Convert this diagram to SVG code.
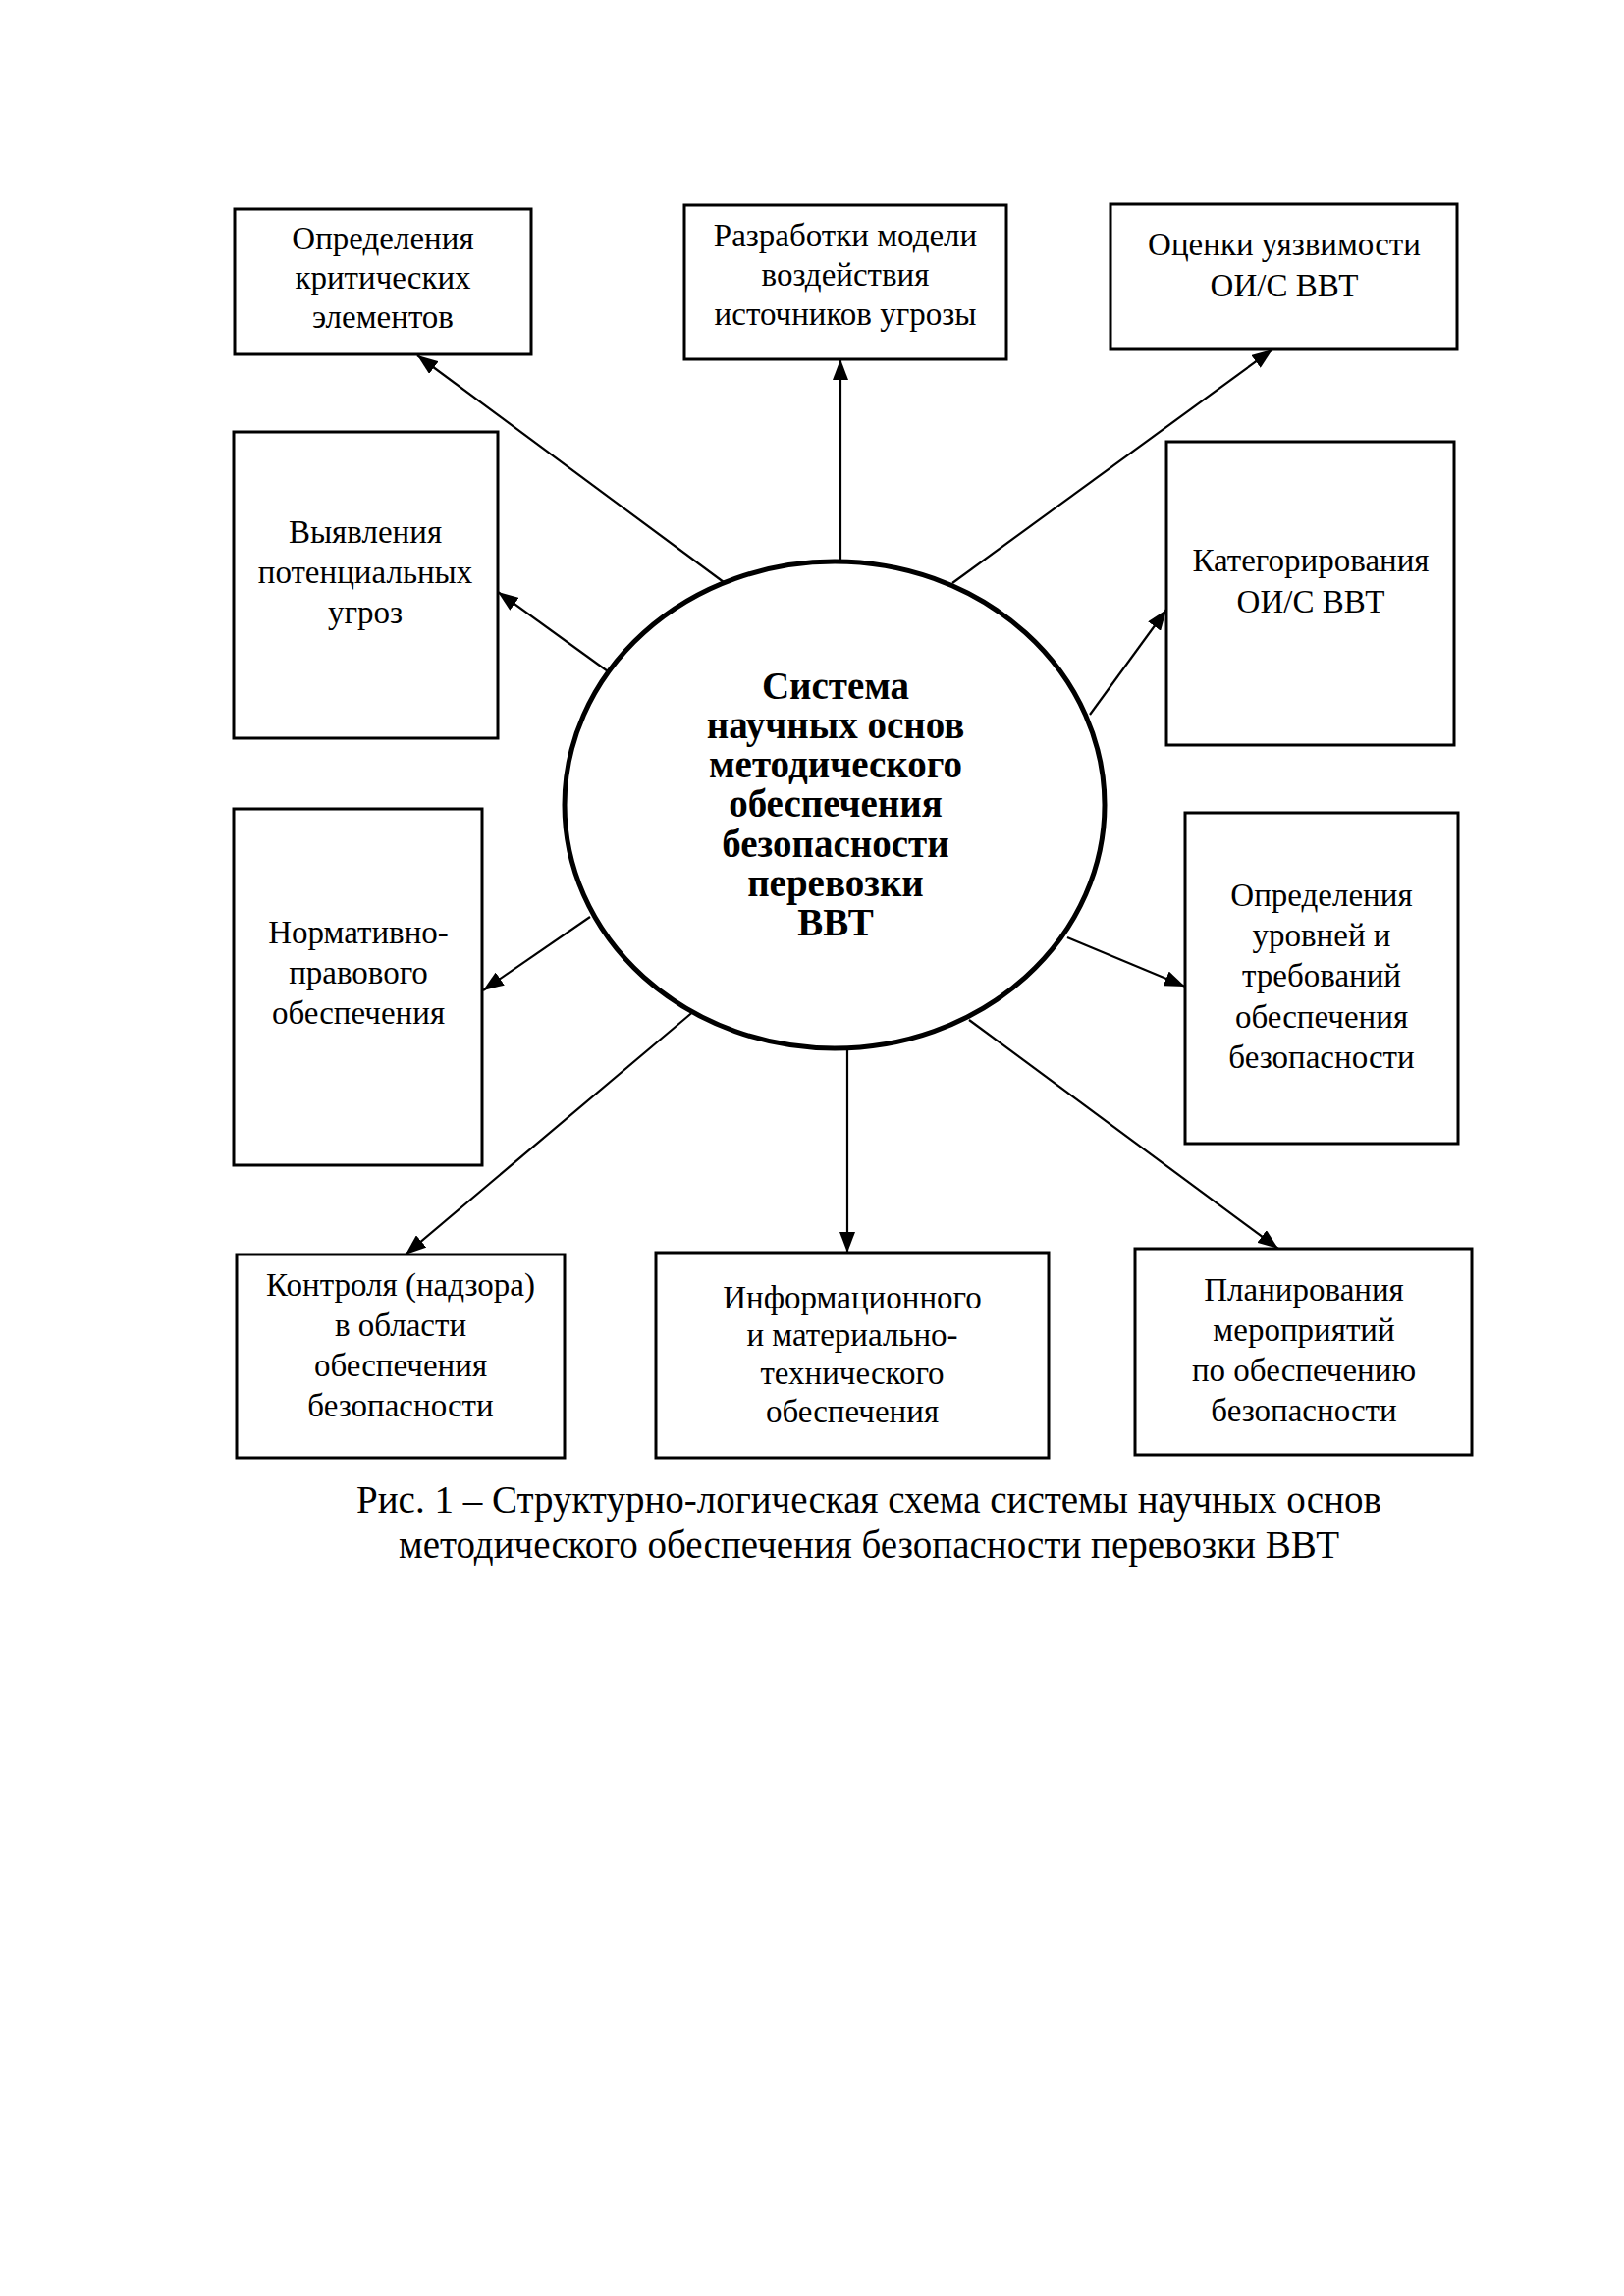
<svg xmlns="http://www.w3.org/2000/svg" width="1654" height="2339" viewBox="0 0 1654 2339">
<style>
.box{fill:#fff;stroke:#000;stroke-width:3}
.t{font-family:"Liberation Serif","Times New Roman",serif;font-size:33px;fill:#000;text-anchor:middle}
.tb{font-family:"Liberation Serif","Times New Roman",serif;font-size:39px;font-weight:bold;fill:#000;text-anchor:middle}
.cap{font-family:"Liberation Serif","Times New Roman",serif;font-size:39px;fill:#000;text-anchor:middle}
.ln{stroke:#000;stroke-width:2.2;fill:none;marker-end:url(#ah)}
</style>
<defs>
<marker id="ah" markerUnits="userSpaceOnUse" markerWidth="22" markerHeight="16" refX="21" refY="8" orient="auto">
<path d="M0,0 L21,8 L0,16 z" fill="#000"/>
</marker>
</defs>
<rect width="1654" height="2339" fill="#fff"/>
<g id="connectors">
<line class="ln" x1="741" y1="596" x2="425" y2="362"/>
<line class="ln" x1="856" y1="572" x2="856" y2="366"/>
<line class="ln" x1="970" y1="594" x2="1296" y2="356"/>
<line class="ln" x1="626" y1="689" x2="507" y2="603"/>
<line class="ln" x1="1110" y1="728" x2="1188" y2="621"/>
<line class="ln" x1="601" y1="934" x2="492" y2="1009"/>
<line class="ln" x1="1087" y1="955" x2="1207" y2="1005"/>
<line class="ln" x1="708" y1="1029" x2="413" y2="1278"/>
<line class="ln" x1="863" y1="1062" x2="863" y2="1276"/>
<line class="ln" x1="987" y1="1039" x2="1302" y2="1272"/>
</g>
<g id="center">
<ellipse cx="850" cy="820" rx="275" ry="248" fill="#fff" stroke="#000" stroke-width="5"/>
<text class="tb" x="851" y="712">Система</text>
<text class="tb" x="851" y="752">научных основ</text>
<text class="tb" x="851" y="792">методического</text>
<text class="tb" x="851" y="832">обеспечения</text>
<text class="tb" x="851" y="873">безопасности</text>
<text class="tb" x="851" y="913">перевозки</text>
<text class="tb" x="851" y="953">ВВТ</text>
</g>
<g id="n1">
<rect class="box" x="239" y="213" width="302" height="148"/>
<text class="t" x="390" y="254">Определения</text>
<text class="t" x="390" y="294">критических</text>
<text class="t" x="390" y="334">элементов</text>
</g>
<g id="n2">
<rect class="box" x="697" y="209" width="328" height="157"/>
<text class="t" x="861" y="251">Разработки модели</text>
<text class="t" x="861" y="291">воздействия</text>
<text class="t" x="861" y="331">источников угрозы</text>
</g>
<g id="n3">
<rect class="box" x="1131" y="208" width="353" height="148"/>
<text class="t" x="1308" y="260">Оценки уязвимости</text>
<text class="t" x="1308" y="302">ОИ/С ВВТ</text>
</g>
<g id="n4">
<rect class="box" x="238" y="440" width="269" height="312"/>
<text class="t" x="372" y="553">Выявления</text>
<text class="t" x="372" y="594">потенциальных</text>
<text class="t" x="372" y="635">угроз</text>
</g>
<g id="n5">
<rect class="box" x="1188" y="450" width="293" height="309"/>
<text class="t" x="1335" y="582">Категорирования</text>
<text class="t" x="1335" y="624">ОИ/С ВВТ</text>
</g>
<g id="n6">
<rect class="box" x="238" y="824" width="253" height="363"/>
<text class="t" x="365" y="961">Нормативно-</text>
<text class="t" x="365" y="1002">правового</text>
<text class="t" x="365" y="1043">обеспечения</text>
</g>
<g id="n7">
<rect class="box" x="1207" y="828" width="278" height="337"/>
<text class="t" x="1346" y="923">Определения</text>
<text class="t" x="1346" y="964">уровней и</text>
<text class="t" x="1346" y="1005">требований</text>
<text class="t" x="1346" y="1047">обеспечения</text>
<text class="t" x="1346" y="1088">безопасности</text>
</g>
<g id="n8">
<rect class="box" x="241" y="1278" width="334" height="207"/>
<text class="t" x="408" y="1320">Контроля (надзора)</text>
<text class="t" x="408" y="1361">в области</text>
<text class="t" x="408" y="1402">обеспечения</text>
<text class="t" x="408" y="1443">безопасности</text>
</g>
<g id="n9">
<rect class="box" x="668" y="1276" width="400" height="209"/>
<text class="t" x="868" y="1333">Информационного</text>
<text class="t" x="868" y="1371">и материально-</text>
<text class="t" x="868" y="1410">технического</text>
<text class="t" x="868" y="1449">обеспечения</text>
</g>
<g id="n10">
<rect class="box" x="1156" y="1272" width="343" height="210"/>
<text class="t" x="1328" y="1325">Планирования</text>
<text class="t" x="1328" y="1366">мероприятий</text>
<text class="t" x="1328" y="1407">по обеспечению</text>
<text class="t" x="1328" y="1448">безопасности</text>
</g>
<g id="caption">
<text class="cap" x="885" y="1541">Рис. 1 – Структурно-логическая схема системы научных основ</text>
<text class="cap" x="885" y="1587">методического обеспечения безопасности перевозки ВВТ</text>
</g>
</svg>
